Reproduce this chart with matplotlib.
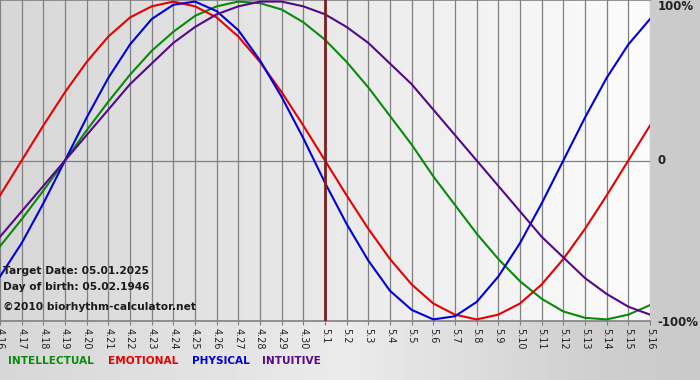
import matplotlib

matplotlib.use("Agg")
import matplotlib.pyplot as plt
import numpy as np

# day labels along the bottom (target date marked with the dark red line)
DAYS = ["4.16", "4.17", "4.18", "4.19", "4.20", "4.21", "4.22", "4.23", "4.24", "4.25",
        "4.26", "4.27", "4.28", "4.29", "4.30", "5.1", "5.2", "5.3", "5.4", "5.5",
        "5.6", "5.7", "5.8", "5.9", "5.10", "5.11", "5.12", "5.13", "5.14", "5.15", "5.16"]
TARGET_DAY = "5.1"

# cycle values, -1..1, one per day
intellectual = [-0.54, -0.37, -0.19, 0.00, 0.19, 0.37, 0.54, 0.69, 0.81, 0.91, 0.97,
                1.00, 0.99, 0.95, 0.87, 0.76, 0.62, 0.46, 0.28, 0.10, -0.10, -0.28,
                -0.46, -0.62, -0.76, -0.87, -0.95, -0.99, -1.00, -0.97, -0.91]
emotional = [-0.22, 0.00, 0.22, 0.43, 0.62, 0.78, 0.90, 0.97, 1.00, 0.97, 0.90,
             0.78, 0.62, 0.43, 0.22, 0.00, -0.22, -0.43, -0.62, -0.78, -0.90, -0.97,
             -1.00, -0.97, -0.90, -0.78, -0.62, -0.43, -0.22, 0.00, 0.22]
physical = [-0.73, -0.52, -0.27, 0.00, 0.27, 0.52, 0.73, 0.89, 0.98, 1.00, 0.94,
            0.82, 0.63, 0.40, 0.14, -0.14, -0.40, -0.63, -0.82, -0.94, -1.00, -0.98,
            -0.89, -0.73, -0.52, -0.27, 0.00, 0.27, 0.52, 0.73, 0.89]
intuitive = [-0.48, -0.32, -0.16, 0.00, 0.16, 0.32, 0.48, 0.61, 0.74, 0.84, 0.92,
             0.97, 1.00, 1.00, 0.97, 0.92, 0.84, 0.74, 0.61, 0.48, 0.32, 0.16,
             0.00, -0.16, -0.32, -0.48, -0.61, -0.74, -0.84, -0.92, -0.97]

SERIES = [
    ("INTELLECTUAL", intellectual, "#0a8a0a"),
    ("EMOTIONAL", emotional, "#e80000"),
    ("PHYSICAL", physical, "#0000dc"),
    ("INTUITIVE", intuitive, "#55088a"),
]

W, H = 700, 380


def fx(px):
    return px / W


def fy(py):
    return 1 - py / H


def main() -> None:
    fig = plt.figure(figsize=(W / 100, H / 100), dpi=100)
    fig.patch.set_facecolor("#cbcbcb")

    # page background: gray, a bit lighter under the legend
    bg = fig.add_axes([0, 0, 1, 1], zorder=-10)
    grad = np.interp(np.linspace(0, 1, 200), [0, 0.5, 0.85, 1], [0.84, 0.92, 0.81, 0.79])
    bg.imshow(np.tile(grad, (2, 1)), cmap="gray", vmin=0, vmax=1, aspect="auto",
              extent=[0, 1, 0, 1])
    bg.set_axis_off()

    ax = fig.add_axes([0, fy(321), fx(650), 321 / H])
    x = np.arange(len(DAYS))
    ax.set_xlim(0, len(DAYS) - 1)
    ax.set_ylim(-1.01, 1.01)

    # light gradient inside the plot, darker on the left
    pgrad = np.linspace(0.84, 0.985, 200)
    ax.imshow(np.tile(pgrad, (2, 1)), cmap="gray", vmin=0, vmax=1, aspect="auto",
              extent=[0, len(DAYS) - 1, -1.01, 1.01], zorder=0)

    for xi in x:
        ax.axvline(xi, color="#808080", lw=0.9, zorder=1)
    ax.axhline(0, color="#808080", lw=0.9, zorder=1)

    for name, vals, color in SERIES:
        ax.plot(x, vals, color=color, lw=1.5, zorder=3, solid_joinstyle="round")

    ax.axvline(DAYS.index(TARGET_DAY), color="#7d1f1f", lw=2.0, zorder=4)

    for side in ["left", "right"]:
        ax.spines[side].set_visible(False)
    for side in ["top", "bottom"]:
        ax.spines[side].set_color("#808080")
        ax.spines[side].set_linewidth(1.2)

    ax.set_yticks([])
    ax.set_xticks(x)
    ax.set_xticklabels(DAYS, rotation=270, fontsize=7, color="#222222")
    ax.tick_params(axis="x", length=3, color="#808080", pad=2)

    # right-hand scale labels
    lab = dict(fontsize=8.5, fontweight="bold", color="#222222", va="center", ha="left")
    fig.text(fx(658), fy(7), "100%", **lab)
    fig.text(fx(657), fy(161), "0", **lab)
    fig.text(fx(657), fy(322), "-100%", **lab)

    info = dict(fontsize=7.7, fontweight="bold", color="#1a1a1a", va="center", ha="left")
    fig.text(fx(3), fy(271), "Target Date: 05.01.2025", **info)
    fig.text(fx(3), fy(287), "Day of birth: 05.02.1946", **info)
    fig.text(fx(3), fy(307), "©2010 biorhythm-calculator.net", **info)

    legend_x = [8, 108, 192, 262]
    for (name, _, color), lx in zip(SERIES, legend_x):
        fig.text(fx(lx), fy(361), name, fontsize=7.6, fontweight="bold", color=color,
                 va="center", ha="left")

    fig.savefig("out.png", dpi=100, facecolor=fig.get_facecolor())
    plt.close(fig)


if __name__ == "__main__":
    main()
